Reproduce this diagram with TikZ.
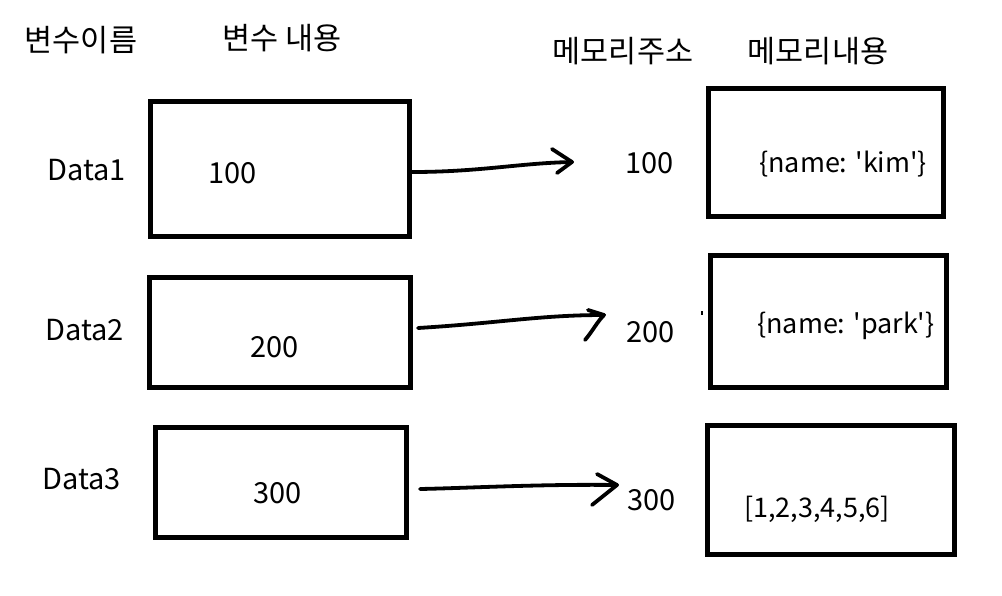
\documentclass[tikz,border=0pt]{standalone}
\usepackage{fontspec}
\setmainfont{Noto Sans CJK KR}
\newfontfamily\codefont{Noto Sans CJK KR}[Ligatures=TeXOff]
\begin{document}
\begin{tikzpicture}[x=1pt,y=-1pt,
  box/.style={draw=black,line width=5pt,inner sep=0pt,fill=none},
  lab/.style={inner sep=0pt,font=\fontsize{29}{33}\selectfont},
  mem/.style={inner sep=0pt,font=\codefont\fontsize{27}{31}\selectfont},
  kor/.style={inner sep=0pt,font=\fontsize{30.5}{34}\selectfont},
  conn/.style={line width=3.8pt,line cap=round,line join=round}]
\useasboundingbox (0,0) rectangle (1002,595);
\fill[white] (0,0) rectangle (1002,595);
% headers
\node[kor] (h1) at (81,40) {변수이름};
\node[kor] (h2) at (282,38) {변수 내용};
\node[kor] (h3) at (623,51) {메모리주소};
\node[kor] (h4) at (818,51) {메모리내용};
% variable boxes
\node[box,minimum width=259pt,minimum height=135pt] (b1) at (280,169) {};
\node[box,minimum width=261pt,minimum height=110pt] (b2) at (280,332.5) {};
\node[box,minimum width=251pt,minimum height=110pt] (b3) at (281,482.5) {};
% memory boxes
\node[box,minimum width=235pt,minimum height=128pt] (m1) at (826,152.5) {};
\node[box,minimum width=236pt,minimum height=132pt] (m2) at (828.5,321) {};
\node[box,minimum width=247pt,minimum height=129pt] (m3) at (831,490) {};
% variable names
\node[lab,anchor=base west] (d1) at (47,180) {Data1};
\node[lab,anchor=base west] (d2) at (45,340) {Data2};
\node[lab,anchor=base west] (d3) at (42,489) {Data3};
% variable contents
\node[lab,anchor=base west] (v1) at (208,183) {100};
\node[lab,anchor=base west] (v2) at (250,357) {200};
\node[lab,anchor=base west] (v3) at (253,503) {300};
% addresses
\node[lab,anchor=base west] (a1) at (625,173) {100};
\node[lab,anchor=base west] (a2) at (626,342) {200};
\node[lab,anchor=base west] (a3) at (627,510) {300};
% memory contents
\node[mem,anchor=base west] (c1) at (759,172) {\{name: 'kim'\}};
\node[mem,anchor=base west] (c2) at (757,333) {\{name: 'park'\}};
\node[mem,anchor=base west] (c3) at (744,517) {[1,2,3,4,5,6]};
% arrow tips
\coordinate (t1) at (572,162);
\coordinate (t2) at (604,315);
\coordinate (t3) at (617,485);
% arrows
\draw[conn] ([yshift=-3pt]b1.east) .. controls (480,172) and (520,163) .. (t1);
\draw[conn] (t1) ++(-20,-13) -- (t1) -- ++(-15,11);
\draw[conn] ([xshift=5pt,yshift=4.5pt]b2.east) .. controls (500,323) and (540,315) .. (t2);
\draw[conn] (t2) ++(-16,-5) -- (t2) .. controls (597,322) and (592,332) .. ++(-19,25);
\draw[conn] ([xshift=11pt,yshift=-6.5pt]b3.east) .. controls (470,488) and (540,484) .. (t3);
\draw[conn] (t3) ++(-20,-11) -- (t3) -- ++(-25,20);
% stray mark
\draw[line width=1.2pt] (702,311) -- (702,315);
\end{tikzpicture}
\end{document}
